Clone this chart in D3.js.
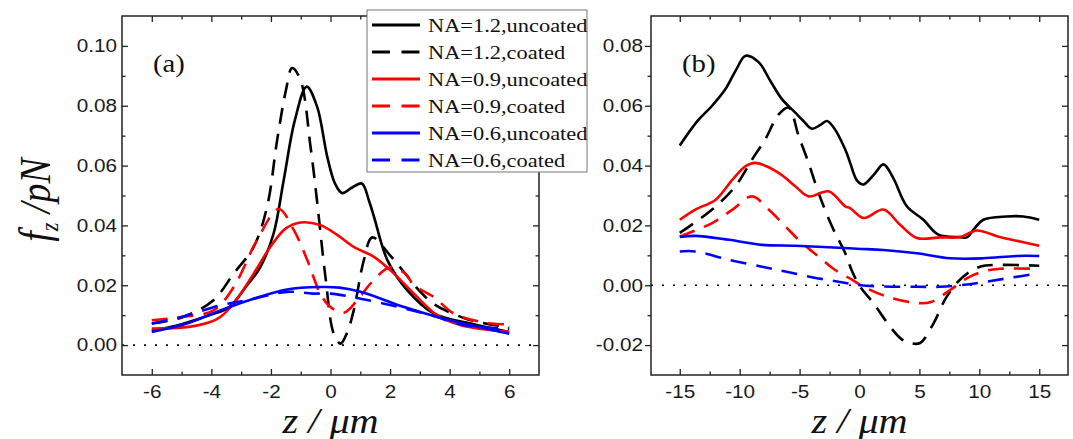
<!DOCTYPE html>
<html lang="en">
<head>
<meta charset="UTF-8">
<title>f_z versus z</title>
<script src="https://d3js.org/d3.v7.min.js"></script>
<style>
    body { margin: 0; background: #fff; }
    svg { display: block; }
    .tick text { font-family: "Liberation Sans", Arial, sans-serif; font-size: 18px; fill: #1a1a1a; }
    .tick line { stroke: #222; stroke-width: 1.3px; }
    .sx { transform-box: fill-box; transform-origin: 50% 50%; transform: scaleX(1.15); }
    .sxl { transform-box: fill-box; transform-origin: 0% 50%; transform: scaleX(1.15); }
    .sxr { transform-box: fill-box; transform-origin: 100% 50%; transform: scaleX(1.15); }
    .serif { font-family: "Liberation Serif", "Times New Roman", serif; fill: #111; }
</style>
</head>
<body>
<svg id="chart" width="1073" height="439"></svg>
<script>
    // ---- data: [z (um), f_z (pN)] ----
    // panel (a)
    const aUnc12 = [[-6,0.0048],[-5,0.007],[-4,0.0102],[-3.4,0.0127],[-2.8,0.020],[-2.36,0.026],[-1.91,0.0373],[-1.57,0.0552],[-1.2,0.075],[-0.8,0.0864],[-0.45,0.0797],[-0.11,0.063],[0.15,0.054],[0.39,0.0508],[0.7,0.0525],[1.05,0.054],[1.3,0.048],[1.46,0.0429],[1.91,0.0284],[2.58,0.0183],[3.48,0.0105],[4.71,0.0072],[6,0.0044]];
    const aCoa12 = [[-6,0.0072],[-4.94,0.0094],[-3.93,0.015],[-3.25,0.0239],[-2.58,0.0328],[-2.13,0.0462],[-1.79,0.0686],[-1.5,0.085],[-1.29,0.0926],[-1.01,0.0887],[-0.67,0.0663],[-0.45,0.048],[-0.17,0.0228],[0.11,0.0038],[0.34,0.0005],[0.55,0.004],[0.78,0.0116],[1.12,0.0284],[1.4,0.036],[2.0,0.030],[2.5,0.024],[3.0,0.018],[3.5,0.0135],[4.5,0.009],[5.3,0.007],[6,0.006]];
    const aUnc09 = [[-6,0.0055],[-4.82,0.006],[-4.04,0.0077],[-3.7,0.0094],[-3.25,0.0139],[-2.58,0.0239],[-2.02,0.0328],[-1.5,0.039],[-1.0,0.041],[-0.34,0.0401],[0.2,0.037],[0.78,0.0328],[1.46,0.0295],[2.13,0.0239],[2.8,0.0172],[3.59,0.0099],[4.38,0.0066],[5.2,0.0052],[6,0.0044]];
    const aCoa09 = [[-6,0.0083],[-5,0.0094],[-3.93,0.0116],[-3.25,0.0194],[-2.47,0.035],[-1.74,0.0455],[-1.23,0.0384],[-0.78,0.0284],[-0.34,0.0172],[0,0.0127],[0.45,0.0108],[0.9,0.015],[1.35,0.0206],[2.0,0.026],[2.5,0.024],[2.8,0.020],[3.48,0.016],[4.15,0.0105],[5.38,0.0072],[6,0.007]];
    const aUnc06 = [[-6,0.0044],[-4.82,0.0072],[-3.7,0.0116],[-2.58,0.0155],[-1.46,0.0186],[-0.34,0.0194],[0.3,0.0192],[1.01,0.0178],[2.47,0.0127],[3.59,0.0094],[4.71,0.0066],[6,0.0038]];
    const aCoa06 = [[-6,0.0072],[-5,0.0094],[-3.7,0.0133],[-2.8,0.015],[-1.46,0.0178],[-0.6,0.0172],[0,0.0172],[1.01,0.0155],[2.3,0.0127],[3.37,0.01],[4.5,0.0066],[6,0.0055]];

    // panel (b)
    const bUnc12 = [[-15,0.0467],[-13.5,0.055],[-12.3,0.060],[-11.2,0.0655],[-10.3,0.072],[-9.5,0.0767],[-8.4,0.0745],[-7.4,0.068],[-6.47,0.0622],[-5.36,0.0577],[-4.7,0.055],[-3.97,0.0523],[-3.3,0.0535],[-2.72,0.0549],[-2.2,0.053],[-1.19,0.0454],[-0.78,0.0409],[-0.2,0.035],[0.34,0.0337],[1.2,0.037],[2.0,0.0404],[2.8,0.036],[3.95,0.0264],[5.33,0.0219],[6.58,0.0169],[8.39,0.0161],[8.95,0.016],[9.6,0.019],[10.33,0.0219],[12.28,0.023],[13.67,0.023],[15,0.0219]];
    const bCoa12 = [[-15,0.0175],[-12.3,0.0253],[-10.36,0.0331],[-8.97,0.042],[-7.86,0.0488],[-6.75,0.0571],[-5.92,0.0594],[-5.08,0.0499],[-4.25,0.0409],[-3.42,0.0309],[-2.3,0.0197],[-1.19,0.0107],[-0.6,0.0045],[0.06,-0.0005],[1.17,-0.006],[2.56,-0.0139],[3.5,-0.018],[4.22,-0.0193],[5.06,-0.0193],[6.17,-0.0128],[7.28,-0.0038],[8.67,0.0029],[10.06,0.0062],[11.72,0.0068],[15,0.0065]];
    const bUnc09 = [[-15,0.0219],[-13.7,0.0253],[-12,0.0286],[-10.6,0.0353],[-9.5,0.0398],[-8.7,0.0409],[-6.75,0.0376],[-5.36,0.0331],[-4.25,0.0297],[-2.58,0.0314],[-1.19,0.0264],[-0.78,0.0258],[0.34,0.0225],[2.0,0.0253],[3.39,0.0202],[4.78,0.0158],[6.72,0.016],[8.39,0.0161],[9.78,0.0183],[11.72,0.0161],[13.4,0.0146],[15,0.0132]];
    const bCoa09 = [[-15,0.0163],[-12.3,0.0208],[-10.6,0.0253],[-8.97,0.0297],[-7.58,0.0253],[-6.19,0.0197],[-4.8,0.0141],[-3.42,0.0096],[-2.03,0.0051],[-0.6,0.0018],[0.34,-0.0005],[2.28,-0.0038],[4.5,-0.0058],[5.9,-0.0057],[7.56,-0.0016],[8.95,0.0023],[10.33,0.0046],[11.72,0.0055],[15,0.0055]];
    const bUnc06 = [[-15,0.0161],[-13.7,0.0165],[-10.9,0.0152],[-8.14,0.0135],[-5.36,0.0132],[-2.58,0.0127],[-0.22,0.0122],[2.0,0.0118],[4.78,0.0107],[7.56,0.009],[10.33,0.009],[13.1,0.0098],[15,0.0098]];
    const bCoa06 = [[-15,0.0113],[-13.7,0.0113],[-10.9,0.0085],[-8.14,0.0062],[-6.19,0.0046],[-3.97,0.0027],[-1.75,0.0012],[0.06,0.0],[2.0,-0.0004],[4.78,-0.0005],[6.72,-0.0005],[8.39,0.0],[10.33,0.001],[12.28,0.0023],[15,0.004]];

    const seriesNames = ["NA=1.2,uncoated", "NA=1.2,coated", "NA=0.9,uncoated",
                         "NA=0.9,coated", "NA=0.6,uncoated", "NA=0.6,coated"];
    const seriesColors = ["#000000", "#000000", "#ff0000", "#ff0000", "#0000ff", "#0000ff"];
    const seriesDashed = [false, true, false, true, false, true];

    // ticks
    const aXMajor = [-6, -4, -2, 0, 2, 4, 6];
    const aXMinor = [-5, -3, -1, 1, 3, 5];
    const aYMajor = [0, 0.02, 0.04, 0.06, 0.08, 0.10];
    const aYMinor = [0.01, 0.03, 0.05, 0.07, 0.09];
    const bXMajor = [-15, -10, -5, 0, 5, 10, 15];
    const bXMinor = [-12.5, -7.5, -2.5, 2.5, 7.5, 12.5];
    const bYMajor = [-0.02, 0, 0.02, 0.04, 0.06, 0.08];
    const bYMinor = [-0.01, 0.01, 0.03, 0.05, 0.07];

    const svg = d3.select("#chart");

    const panels = [
        { id: "a", data: [aUnc12, aCoa12, aUnc09, aCoa09, aUnc06, aCoa06],
          x: d3.scaleLinear().domain([-7, 7]).range([122, 539]),
          y: d3.scaleLinear().domain([-0.01, 0.11]).range([375, 16]),
          xMajor: aXMajor, xMinor: aXMinor, yMajor: aYMajor, yMinor: aYMinor,
          yTickOut: false, yPad: 5 },
        { id: "b", data: [bUnc12, bCoa12, bUnc09, bCoa09, bUnc06, bCoa06],
          x: d3.scaleLinear().domain([-17.4, 17.4]).range([651, 1068]),
          y: d3.scaleLinear().domain([-0.03, 0.09]).range([375, 16]),
          xMajor: bXMajor, xMinor: bXMinor, yMajor: bYMajor, yMinor: bYMinor,
          yTickOut: true, yPad: 2 }
    ];

    panels.forEach(function (p) {
        const x = p.x, y = p.y;
        const x0 = x.range()[0], x1 = x.range()[1];
        const yb = y.range()[0], yt = y.range()[1];
        const g = svg.append("g").attr("class", "panel-" + p.id);

        // zero line (dotted)
        g.append("line")
            .attr("x1", x0).attr("x2", x1)
            .attr("y1", y(0)).attr("y2", y(0))
            .attr("stroke", "#000").attr("stroke-width", 1.6)
            .attr("stroke-dasharray", "2,9");

        const line = d3.line()
            .x(d => x(d[0])).y(d => y(d[1]))
            .curve(d3.curveCatmullRom.alpha(0.5));

        g.selectAll("path.curve")
            .data(p.data)
            .enter()
            .append("path")
            .attr("class", "curve")
            .attr("d", d => line(d))
            .attr("fill", "none")
            .attr("stroke", (d, i) => seriesColors[i])
            .attr("stroke-width", 2.6)
            .attr("stroke-dasharray", (d, i) => seriesDashed[i] ? "16,10" : null);

        // axes: major + minor, ticks inward
        const bottom = g.append("g").attr("transform", "translate(0," + yb + ")")
            .call(d3.axisBottom(x).tickValues(p.xMajor).tickSize(-6).tickPadding(10)
                .tickFormat(d => String(d)));
        bottom.selectAll("text").attr("class", "sx");
        g.append("g").attr("transform", "translate(0," + yb + ")")
            .call(d3.axisBottom(x).tickValues(p.xMinor).tickSize(-3.5).tickFormat(""));

        const top = g.append("g").attr("transform", "translate(0," + yt + ")");
        top.call(d3.axisTop(x).tickValues(p.xMajor).tickSize(-6).tickFormat(""));
        g.append("g").attr("transform", "translate(0," + yt + ")")
            .call(d3.axisTop(x).tickValues(p.xMinor).tickSize(-3.5).tickFormat(""));

        const left = g.append("g").attr("transform", "translate(" + x0 + ",0)")
            .call(d3.axisLeft(y).tickValues(p.yMajor).tickSize(p.yTickOut ? 6 : -6)
                .tickPadding(p.yPad).tickFormat(d => d.toFixed(2)));
        left.selectAll("text").attr("class", "sxr");
        g.append("g").attr("transform", "translate(" + x0 + ",0)")
            .call(d3.axisLeft(y).tickValues(p.yMinor).tickSize(p.yTickOut ? 3.5 : -3.5).tickFormat(""));

        g.append("g").attr("transform", "translate(" + x1 + ",0)")
            .call(d3.axisRight(y).tickValues(p.yMajor).tickSize(-6).tickFormat(""));
        g.append("g").attr("transform", "translate(" + x1 + ",0)")
            .call(d3.axisRight(y).tickValues(p.yMinor).tickSize(-3.5).tickFormat(""));

        g.selectAll(".domain").remove();

        // frame
        g.append("rect")
            .attr("x", x0).attr("y", yt)
            .attr("width", x1 - x0).attr("height", yb - yt)
            .attr("fill", "none").attr("stroke", "#222").attr("stroke-width", 1.5);

        // panel tag
        g.append("text")
            .attr("class", "serif sxl")
            .attr("x", x0 + 31).attr("y", 72)
            .attr("font-size", 25)
            .text("(" + p.id + ")");

        // x title
        const xt = g.append("text")
            .attr("class", "serif sx")
            .attr("x", x(0)).attr("y", 433)
            .attr("text-anchor", "middle")
            .attr("font-size", 35)
            .attr("font-style", "italic");
        xt.text("z / \u03bcm");
    });

    // y title
    const yt = svg.append("text")
        .attr("class", "serif")
        .attr("transform", "translate(50,200) rotate(-90) scale(1,1.15)")
        .attr("text-anchor", "middle")
        .attr("font-size", 38)
        .attr("font-style", "italic");
    yt.append("tspan").text("f");
    yt.append("tspan").attr("font-size", 22).attr("dy", 7).text("z");
    yt.append("tspan").attr("dy", -7).text(" /pN");

    // legend
    const lg = svg.append("g").attr("class", "legend");
    lg.append("rect")
        .attr("x", 367).attr("y", 10)
        .attr("width", 220).attr("height", 162)
        .attr("fill", "#fff").attr("stroke", "#777").attr("stroke-width", 1);

    const rows = lg.selectAll("g.row")
        .data(seriesNames)
        .enter()
        .append("g")
        .attr("class", "row")
        .attr("transform", (d, i) => "translate(0," + (25 + 27 * i) + ")");

    rows.append("line")
        .attr("x1", 372).attr("x2", 420)
        .attr("y1", 0).attr("y2", 0)
        .attr("stroke", (d, i) => seriesColors[i])
        .attr("stroke-width", 3)
        .attr("stroke-dasharray", (d, i) => seriesDashed[i] ? "18,11.5" : null);

    rows.append("text")
        .attr("class", "serif sxl")
        .attr("x", 428).attr("y", 6.5)
        .attr("font-size", 19.5)
        .text(d => d);
</script>
</body>
</html>
